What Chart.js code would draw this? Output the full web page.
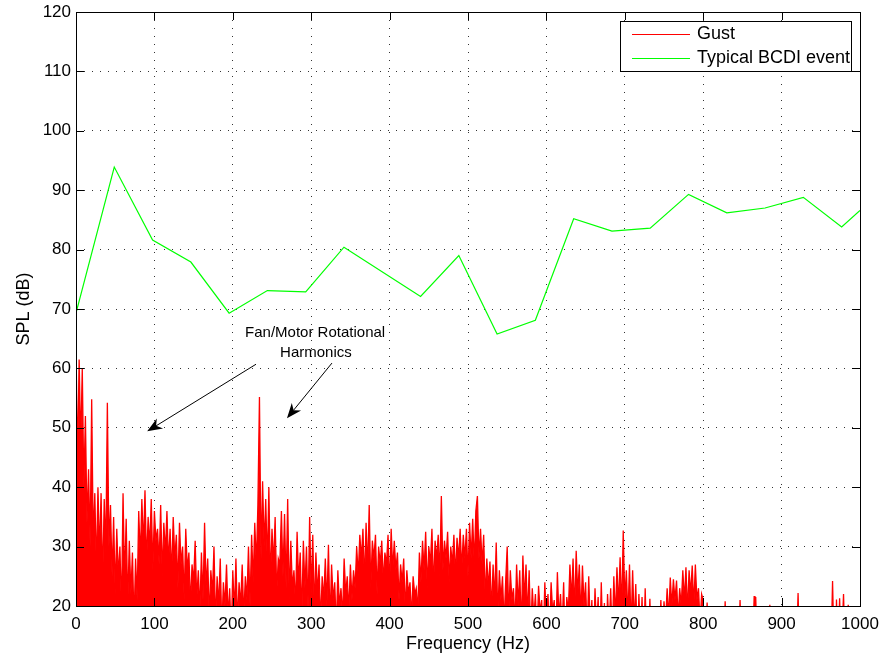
<!DOCTYPE html>
<html>
<head>
<meta charset="utf-8">
<title>Gust vs typical BCDI event</title>
<script src="https://cdn.jsdelivr.net/npm/chart.js@4.4.0/dist/chart.umd.min.js"></script>
<style>
    html, body { margin: 0; padding: 0; background: #fff; }
</style>
</head>
<body>
<canvas id="grafico" width="883" height="658"></canvas>
<script>
// Gust spectrum, one value every 2 Hz from 0 to 800 Hz (dB)
const gustStep = 2;
const gustDb = [
    63.5, 44, 61.5, 47, 60, 40, 52, 34, 43, 30, 54.8, 31, 39, 26, 40, 29, 39, 24, 38, 29,
    54.2, 30, 37, 25, 35, 22, 33, 25, 30, 19, 39, 24, 34.7, 20, 31, 22, 29, 17, 28, 21,
    36, 28, 38, 30, 39.5, 27, 35, 30, 38, 26, 36, 31, 33, 27, 37, 25, 34, 29, 36, 27,
    33, 25, 35, 28, 32, 23, 34, 27, 30, 21, 33, 26, 29, 20, 27, 24, 31, 21, 26, 19,
    29, 21, 34, 23, 28, 18, 26, 22, 30, 17, 25, 20, 28, 16, 24, 20, 27, 18, 23, 15,
    26, 19, 28, 17, 24, 20, 27, 18, 25, 21, 30, 20, 32, 24, 34, 27, 37, 55.2, 28, 41,
    30, 38, 27, 40, 24, 33, 27, 35, 22, 28, 27, 36, 25, 35.5, 23, 38, 21, 31, 23, 26,
    20, 32.5, 24, 29, 18, 31, 23, 30, 19, 35, 22, 32, 19, 29, 22, 27, 17, 25, 21, 28,
    20, 30.3, 17, 27, 21, 24, 16, 26, 20, 23, 18, 28, 22, 25, 19, 27, 21, 26, 23, 30,
    25, 32, 28, 33, 24, 34, 26, 37, 23, 31, 28, 32, 22, 30, 27, 31, 24, 29, 27, 32,
    23, 33, 26, 31, 26, 29, 21, 27, 24, 28, 19, 26, 22, 24, 18, 25, 22, 23, 19, 29,
    24, 31, 26, 32.5, 23, 30, 27, 33, 23, 31, 28, 32, 25, 38.5, 26, 31, 28, 32.5, 24, 30,
    27, 32, 25, 31.5, 28, 33, 26, 32, 28, 33, 25, 34, 28, 34.7, 27, 36, 38.5, 28, 33, 27,
    32, 21, 28, 23, 27.5, 19, 27, 21, 30.7, 18, 26, 21, 25, 17, 24, 30, 18, 26, 21, 23,
    17, 27, 20, 26, 16, 28.5, 21, 27, 18, 26, 15, 23, 18, 22, 15, 23.4, 19, 21, 14, 24,
    17, 22, 15, 24, 19, 21, 14, 25.7, 18, 22, 16, 24, 13, 21.5, 19, 27, 21, 28, 19, 29.3,
    22, 27, 18, 26.8, 20, 24, 15, 25, 16, 21, 12, 23, 16, 21.5, 12, 24, 14, 20.5, 11, 22,
    16, 23, 14, 25, 18, 26.5, 20, 28.2, 19, 32.7, 21, 26, 18, 27, 16, 26, 17, 23.7, 13, 22,
    14, 21.5, 11, 23, 13, 14, 21.2, 12, 10, 13, 9, 12, 14, 21, 14, 20.8, 17, 23, 18, 24.8,
    20, 24.5, 21, 24.3, 18, 23, 20, 26, 21, 26.5, 19, 26, 22, 26.8, 20, 27, 21, 23, 17, 22,
    21,
];

// above 800 Hz only a few small spikes stick out of the floor
const gustTailHz = [802, 805, 807, 826, 828, 830, 845, 847, 849, 863, 865, 866, 867, 869,
    883, 885, 887, 919, 921, 923, 963, 965, 967, 969, 970, 972, 974, 976, 979, 981, 985, 987, 1000];
const gustTailDb = [12, 20.6, 12, 12, 20.8, 12, 12, 21, 12, 12, 21.7, 12, 21.5, 12,
    12, 20.2, 12, 12, 22.2, 12, 12, 24.2, 12, 12, 21.1, 12, 21.3, 12, 22, 12, 20.2, 12, 12];

// Typical BCDI event
const bcdiHz = [0, 48.8, 97.7, 146.5, 195.3, 244.1, 293, 341.8, 439.5, 488.3, 537.1,
    585.9, 634.8, 683.6, 732.4, 781.3, 830.1, 878.9, 927.7, 976.6, 1000];
const bcdiDb = [69.3, 93.9, 81.6, 77.9, 69.3, 73.1, 72.9, 80.4, 72.1, 79.0, 65.8,
    68.1, 85.2, 83.1, 83.6, 89.3, 86.2, 87.0, 88.8, 83.8, 86.6];

const seriesNames = ["Gust", "Typical BCDI event"];
const seriesColors = ["#ff0000", "#00ff00"];

const xTicks = [0, 100, 200, 300, 400, 500, 600, 700, 800, 900, 1000];
const yTicks = [20, 30, 40, 50, 60, 70, 80, 90, 100, 110, 120];

const noteLines = ["Fan/Motor Rotational", "Harmonics"];

const fontFamily = "'Liberation Sans', Arial, Helvetica, sans-serif";

let gustPoints = gustDb.map((v, i) => ({ x: i * gustStep, y: v }));
gustTailHz.forEach((f, i) => gustPoints.push({ x: f, y: gustTailDb[i] }));
let bcdiPoints = bcdiHz.map((f, i) => ({ x: f, y: bcdiDb[i] }));

// box, inward ticks, legend and the arrows
const matlabLook = {
    id: "matlabLook",
    afterDraw(chart) {
        const ctx = chart.ctx;
        const a = chart.chartArea;
        const xs = chart.scales.x;
        const ys = chart.scales.y;
        ctx.save();

        ctx.strokeStyle = "#000";
        ctx.lineWidth = 1;
        ctx.strokeRect(Math.round(a.left) + 0.5, Math.round(a.top) + 0.5,
            Math.round(a.right - a.left), Math.round(a.bottom - a.top));

        ctx.beginPath();
        xTicks.forEach((v) => {
            const px = Math.round(xs.getPixelForValue(v)) + 0.5;
            ctx.moveTo(px, a.bottom); ctx.lineTo(px, a.bottom - 8);
            ctx.moveTo(px, a.top); ctx.lineTo(px, a.top + 8);
        });
        yTicks.forEach((v) => {
            const py = Math.round(ys.getPixelForValue(v)) + 0.5;
            ctx.moveTo(a.left, py); ctx.lineTo(a.left + 8, py);
            ctx.moveTo(a.right, py); ctx.lineTo(a.right - 8, py);
        });
        ctx.stroke();

        // legend
        ctx.fillStyle = "#fff";
        ctx.fillRect(620.5, 21.5, 231, 50);
        ctx.strokeRect(620.5, 21.5, 231, 50);
        ctx.font = "18px " + fontFamily;
        ctx.textBaseline = "middle";
        ctx.textAlign = "left";
        [34.5, 58.5].forEach((ly, i) => {
            ctx.strokeStyle = seriesColors[i];
            ctx.beginPath();
            ctx.moveTo(632, ly); ctx.lineTo(690, ly);
            ctx.stroke();
            ctx.fillStyle = "#000";
            ctx.fillText(seriesNames[i], 697, ly);
        });

        // annotation text
        ctx.font = "15px " + fontFamily;
        ctx.textAlign = "center";
        ctx.fillStyle = "#000";
        ctx.fillText(noteLines[0], xs.getPixelForValue(305), ys.getPixelForValue(66));
        ctx.fillText(noteLines[1], xs.getPixelForValue(306), ys.getPixelForValue(62.6));

        drawArrow(ctx, xs.getPixelForValue(229.6), ys.getPixelForValue(60.7),
            xs.getPixelForValue(90.8), ys.getPixelForValue(49.4));
        drawArrow(ctx, xs.getPixelForValue(326.5), ys.getPixelForValue(60.9),
            xs.getPixelForValue(269.1), ys.getPixelForValue(51.6));

        ctx.restore();
    },
};

function drawArrow(ctx, x0, y0, x1, y1) {
    const ang = Math.atan2(y1 - y0, x1 - x0);
    const len = 15;
    const half = 6;
    const bx = x1 - len * Math.cos(ang);
    const by = y1 - len * Math.sin(ang);
    const nx = x1 - 0.7 * len * Math.cos(ang);
    const ny = y1 - 0.7 * len * Math.sin(ang);
    ctx.strokeStyle = "#000";
    ctx.lineWidth = 1;
    ctx.beginPath();
    ctx.moveTo(x0, y0);
    ctx.lineTo(nx, ny);
    ctx.stroke();
    ctx.fillStyle = "#000";
    ctx.beginPath();
    ctx.moveTo(x1, y1);
    ctx.lineTo(bx + half * Math.sin(ang), by - half * Math.cos(ang));
    ctx.lineTo(nx, ny);
    ctx.lineTo(bx - half * Math.sin(ang), by + half * Math.cos(ang));
    ctx.closePath();
    ctx.fill();
}

const options = {
    responsive: false,
    animation: false,
    devicePixelRatio: 1,
    layout: {
        padding: { top: 12, right: 23, left: 0, bottom: 0 },
    },
    plugins: {
        legend: { display: false },
        tooltip: { enabled: false },
    },
    elements: {
        point: { radius: 0 },
        line: { tension: 0 },
    },
    scales: {
        x: {
            type: "linear",
            min: 0,
            max: 1000,
            afterBuildTicks: (scale) => {
                scale.ticks = xTicks.map((v) => ({ value: v }));
            },
            afterFit: (scale) => {
                scale.height = 52;
                scale.paddingLeft = 0;
                scale.paddingRight = 0;
            },
            grid: { color: "#333", drawTicks: false, lineWidth: 1 },
            border: { display: false, dash: [1, 7] },
            ticks: {
                color: "#000",
                padding: 8,
                maxRotation: 0,
                font: { size: 17, family: fontFamily },
                callback: (v) => String(v),
            },
            title: {
                display: true,
                text: "Frequency (Hz)",
                color: "#000",
                padding: { top: 0, bottom: 3 },
                font: { size: 18, family: fontFamily },
            },
        },
        y: {
            min: 20,
            max: 120,
            afterBuildTicks: (scale) => {
                scale.ticks = yTicks.map((v) => ({ value: v }));
            },
            afterFit: (scale) => {
                scale.width = 76;
                scale.paddingTop = 0;
                scale.paddingBottom = 0;
            },
            grid: { color: "#333", drawTicks: false, lineWidth: 1 },
            border: { display: false, dash: [1, 7] },
            ticks: {
                color: "#000",
                padding: 5,
                font: { size: 17, family: fontFamily },
                callback: (v) => String(v),
            },
            title: {
                display: true,
                text: "SPL (dB)",
                color: "#000",
                padding: { top: 13, bottom: 0 },
                font: { size: 18, family: fontFamily },
            },
        },
    },
};

new Chart(document.getElementById("grafico"), {
    type: "line",
    data: {
        datasets: [
            {
                label: seriesNames[0],
                data: gustPoints,
                borderColor: seriesColors[0],
                backgroundColor: seriesColors[0],
                borderWidth: 1.3,
                fill: "start",
                clip: 0,
            },
            {
                label: seriesNames[1],
                data: bcdiPoints,
                borderColor: seriesColors[1],
                borderWidth: 1.2,
                fill: false,
                clip: 0,
            },
        ],
    },
    options: options,
    plugins: [matlabLook],
});
</script>
</body>
</html>
